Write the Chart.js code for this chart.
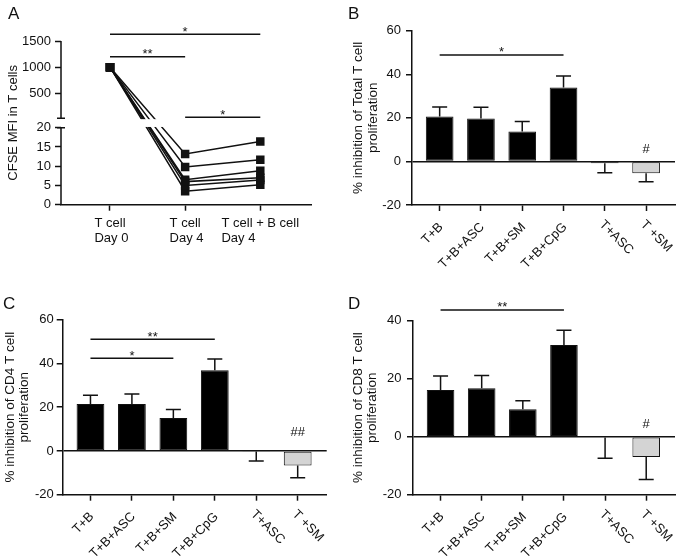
<!DOCTYPE html>
<html>
<head>
<meta charset="utf-8">
<script src="https://cdn.jsdelivr.net/npm/chart.js@4.4.1/dist/chart.umd.min.js"></script>
<style>
body { margin: 0; background: #fff; }
#fig { position: relative; width: 684px; height: 556px; font-family: 'Liberation Sans', Arial, sans-serif; }
#fig canvas { position: absolute; }
.tag { position: absolute; font-size: 17px; line-height: 17px; color: #111; }
</style>
</head>
<body>
<div id="fig">
  <canvas id="panelA" width="342" height="278" style="left:0;top:0"></canvas>
  <canvas id="panelB" width="342" height="278" style="left:342px;top:0"></canvas>
  <canvas id="panelC" width="342" height="278" style="left:0;top:278px"></canvas>
  <canvas id="panelD" width="342" height="278" style="left:342px;top:278px"></canvas>
  <div class="tag" style="left:8px;top:5px">A</div>
  <div class="tag" style="left:348px;top:5px">B</div>
  <div class="tag" style="left:3px;top:295px">C</div>
  <div class="tag" style="left:348px;top:295px">D</div>
</div>
<script>
// Panel A: CFSE MFI i T-celler, en linje per donator
const groupsA = [['T cell', 'Day 0'], ['T cell', 'Day 4'], ['T cell + B cell', 'Day 4']];
const day0 = [1000, 1000, 1000, 1000, 1000, 1000];
const day4 = [13.2, 9.8, 6.5, 6.0, 5.0, 3.5];
const day4B = [16.4, 11.7, 8.8, 7.0, 6.4, 5.2];
const ticksA = [0, 5, 10, 15, 20, 500, 1000, 1500];
const sigA = [[0, 2, 1628, '*'], [0, 1, 1199, '**'], [1, 2, 39, '*']];

// Panel B-D: % hämning, medel och SEM
const groups = ['T+B', 'T+B+ASC', 'T+B+SM', 'T+B+CpG', 'T+ASC', 'T +SM'];
const totalMean = [20.6, 19.7, 13.7, 33.9, -0.8, -5.4];
const totalSem = [4.4, 5.2, 4.6, 5.3, 4.4, 3.9];
const cd4Mean = [21.5, 21.5, 15.1, 36.9, -0.3, -6.6];
const cd4Sem = [4.0, 4.5, 3.8, 5.1, 4.3, 5.6];
const cd8Mean = [16.1, 16.7, 9.5, 31.6, -0.3, -7.0];
const cd8Sem = [4.8, 4.4, 2.9, 5.1, 7.1, 7.8];
const sigTotal = [[0, 3, 48.9, '*']];
const sigCD4 = [[0, 3, 51.1, '**'], [0, 2, 42.4, '*']];
const sigCD8 = [[0, 3, 43.7, '**']];
const hashTotal = [[5, 5.4, '#']];
const hashCD4 = [[5, 8.5, '##']];
const hashCD8 = [[5, 4.1, '#']];

const ink = '#111';
const family = "'Liberation Sans', Arial, sans-serif";
Chart.defaults.font.family = family;
Chart.defaults.font.size = 13;
Chart.defaults.color = ink;
Chart.defaults.animation = false;
Chart.defaults.plugins.legend.display = false;
Chart.defaults.plugins.tooltip.enabled = false;

// Bruten y-axel: 0-20 nedtill, 20-1500 upptill
const breakA = { low: 20, high: 20, lowShare: 0.47, gapShare: 0.0574 };

class BrokenScale extends Chart.LinearScale {
    parts() {
        const h = this.bottom - this.top;
        const lowH = h * breakA.lowShare;
        const gap = h * breakA.gapShare;
        return { h, lowH, gap, highH: h - lowH - gap };
    }
    getPixelForValue(v) {
        const p = this.parts();
        if (v <= breakA.low) {
            return this.bottom - (v - this.min) / (breakA.low - this.min) * p.lowH;
        }
        return this.bottom - p.lowH - p.gap - (v - breakA.high) / (this.max - breakA.high) * p.highH;
    }
    getValueForPixel(px) {
        const p = this.parts();
        const d = this.bottom - px;
        if (d <= p.lowH) return this.min + d / p.lowH * (breakA.low - this.min);
        return breakA.high + (d - p.lowH - p.gap) / p.highH * (this.max - breakA.high);
    }
}
BrokenScale.id = 'broken';
Chart.register(BrokenScale);

function axisX(n, height) {
    return {
        type: 'linear',
        offset: false,
        min: -0.67,
        max: n - 1 + 0.7,
        afterBuildTicks: s => { s.ticks = Array.from({ length: n }, (_, i) => ({ value: i })); },
        afterFit: s => { s.height = height; },
        ticks: { display: false },
        grid: { offset: false, drawOnChartArea: false, tickLength: 6, tickColor: ink, tickWidth: 1.5 },
        border: { color: ink, width: 1.5 }
    };
}

function axisY(min, max, width, title, titlePad, labelPad) {
    return {
        min: min,
        max: max,
        ticks: { stepSize: 20, padding: labelPad },
        afterFit: s => { s.width = width; },
        grid: {
            color: c => (c.tick && c.tick.value === 0) ? ink : 'rgba(0,0,0,0)',
            lineWidth: 1.5, tickLength: 6, tickColor: ink, tickWidth: 1.5
        },
        border: { color: ink, width: 1.5 },
        title: {
            display: true, text: title, color: ink,
            font: { size: 13.5, lineHeight: 1.08 },
            padding: { top: titlePad, bottom: 0 }
        }
    };
}

// Signifikansstreck med stjärnor
function brackets(list) {
    return {
        id: 'brackets',
        afterDraw(chart) {
            const { ctx, scales: { x, y } } = chart;
            ctx.save();
            ctx.strokeStyle = ink;
            ctx.fillStyle = ink;
            ctx.lineWidth = 1.5;
            ctx.font = '13px ' + family;
            ctx.textAlign = 'center';
            ctx.textBaseline = 'alphabetic';
            list.forEach(([a, b, v, txt]) => {
                const x1 = x.getPixelForValue(a);
                const x2 = x.getPixelForValue(b);
                const py = y.getPixelForValue(v);
                ctx.beginPath();
                ctx.moveTo(x1, py);
                ctx.lineTo(x2, py);
                ctx.stroke();
                ctx.fillText(txt, (x1 + x2) / 2, py + 1.5);
            });
            ctx.restore();
        }
    };
}

// #-markeringar ovanför staplar
function hashes(list) {
    return {
        id: 'hashes',
        afterDraw(chart) {
            const { ctx, scales: { x, y } } = chart;
            ctx.save();
            ctx.fillStyle = ink;
            ctx.font = '13px ' + family;
            ctx.textAlign = 'center';
            ctx.textBaseline = 'middle';
            list.forEach(([i, v, txt]) => ctx.fillText(txt, x.getPixelForValue(i), y.getPixelForValue(v)));
            ctx.restore();
        }
    };
}

// Felstaplar bort från noll
function errorBars(means, sems) {
    return {
        id: 'errorBars',
        afterDatasetsDraw(chart) {
            const { ctx, scales: { y } } = chart;
            const bars = chart.getDatasetMeta(0).data;
            ctx.save();
            ctx.strokeStyle = ink;
            ctx.lineWidth = 1.5;
            bars.forEach((bar, i) => {
                const end = y.getPixelForValue(means[i] + Math.sign(means[i]) * sems[i]);
                ctx.beginPath();
                ctx.moveTo(bar.x, bar.y);
                ctx.lineTo(bar.x, end);
                ctx.moveTo(bar.x - 7.5, end);
                ctx.lineTo(bar.x + 7.5, end);
                ctx.stroke();
            });
            ctx.restore();
        }
    };
}

// Snedställda kategorietiketter, de två sista lutar åt andra hållet
function tiltLabels(names) {
    return {
        id: 'tiltLabels',
        afterDraw(chart) {
            const { ctx, chartArea, scales: { x } } = chart;
            ctx.save();
            ctx.fillStyle = ink;
            ctx.font = '13px ' + family;
            ctx.textBaseline = 'middle';
            names.forEach((name, i) => {
                const px = x.getPixelForValue(i);
                ctx.save();
                if (i < 4) {
                    ctx.translate(px + 1.5, chartArea.bottom + 20);
                    ctx.rotate(-Math.PI / 4);
                    ctx.textAlign = 'right';
                } else {
                    ctx.translate(px - 3.5, chartArea.bottom + 17.5);
                    ctx.rotate(Math.PI / 4);
                    ctx.textAlign = 'left';
                }
                ctx.fillText(name, 0, 0);
                ctx.restore();
            });
            ctx.restore();
        }
    };
}

function barPanel(id, means, sems, cfg) {
    new Chart(document.getElementById(id), {
        type: 'bar',
        data: {
            datasets: [{
                data: means.map((v, i) => ({ x: i, y: v })),
                backgroundColor: means.map((v, i) => i < 4 ? '#000' : '#d4d4d4'),
                borderColor: ink,
                borderWidth: 1,
                borderSkipped: false,
                barPercentage: 0.67,
                categoryPercentage: 1
            }]
        },
        options: {
            responsive: false,
            layout: { padding: { top: cfg.top, right: cfg.right, left: 0, bottom: 0 } },
            scales: {
                x: axisX(groups.length, cfg.xh),
                y: axisY(cfg.min, cfg.max, cfg.yw, cfg.title, cfg.titlePad, cfg.labelPad)
            }
        },
        plugins: [tiltLabels(groups), errorBars(means, sems), brackets(cfg.sig), hashes(cfg.hash)]
    });
}

// Panel A
const panelAExtras = {
    id: 'panelAExtras',
    afterDatasetsDraw(chart) {
        // vit remsa i axelbrottet
        const { ctx, chartArea, scales: { y } } = chart;
        const p = y.parts();
        const lowTop = y.bottom - p.lowH;
        const highBottom = lowTop - p.gap;
        ctx.save();
        ctx.fillStyle = '#fff';
        ctx.fillRect(chartArea.left + 1, highBottom + 0.8, chartArea.right - chartArea.left, p.gap - 1.6);
        ctx.restore();
    },
    afterDraw(chart) {
        const { ctx, chartArea, scales: { x, y } } = chart;
        const p = y.parts();
        const lowTop = y.bottom - p.lowH;
        const highBottom = lowTop - p.gap;
        const ax = chartArea.left;
        ctx.save();
        ctx.strokeStyle = ink;
        ctx.lineWidth = 1.5;
        ctx.beginPath();
        ctx.moveTo(ax, y.bottom);
        ctx.lineTo(ax, lowTop);
        ctx.moveTo(ax, highBottom);
        ctx.lineTo(ax, y.top);
        ctx.moveTo(ax - 4, lowTop);
        ctx.lineTo(ax + 4, lowTop);
        ctx.moveTo(ax - 4, highBottom);
        ctx.lineTo(ax + 4, highBottom);
        ctx.stroke();

        // kategorietiketter i två rader
        ctx.fillStyle = ink;
        ctx.font = '13px ' + family;
        ctx.textAlign = 'left';
        ctx.textBaseline = 'alphabetic';
        groupsA.forEach((lines, i) => {
            const px = x.getPixelForValue(i);
            const w0 = ctx.measureText(lines[0]).width;
            lines.forEach((t, k) => ctx.fillText(t, px - w0 / 2, chartArea.bottom + 22 + k * 15.5));
        });
        ctx.restore();
    }
};

new Chart(document.getElementById('panelA'), {
    type: 'line',
    data: {
        datasets: day0.map((v, i) => ({
            data: [{ x: 0, y: v }, { x: 1, y: day4[i] }, { x: 2, y: day4B[i] }],
            borderColor: ink,
            borderWidth: 1.5,
            pointStyle: 'rect',
            pointRadius: 6,
            pointBackgroundColor: ink,
            pointBorderColor: ink,
            pointBorderWidth: 0
        }))
    },
    options: {
        responsive: false,
        layout: { padding: { top: 41, right: 30.3, left: 0, bottom: 0 } },
        scales: {
            x: Object.assign(axisX(groupsA.length, 73.3), { min: -0.652, max: 2.684 }),
            y: {
                type: 'broken',
                min: 0,
                max: 1500,
                afterBuildTicks: s => { s.ticks = ticksA.map(v => ({ value: v })); },
                afterFit: s => { s.width = 61; },
                ticks: { autoSkip: false, padding: 4, callback: v => String(v) },
                grid: { drawOnChartArea: false, tickLength: 6, tickColor: ink, tickWidth: 1.5 },
                border: { display: false },
                title: {
                    display: true, text: 'CFSE MFI in T cells', color: ink,
                    font: { size: 13 }, padding: { top: 6, bottom: 0 }
                }
            }
        }
    },
    plugins: [panelAExtras, brackets(sigA)]
});

barPanel('panelB', totalMean, totalSem, {
    top: 30.7, right: 9, xh: 73, yw: 70, min: -20, max: 60, titlePad: 9.4, labelPad: 5,
    title: ['% inhibition of Total T cell', 'proliferation'], sig: sigTotal, hash: hashTotal
});

barPanel('panelC', cd4Mean, cd4Sem, {
    top: 41.7, right: 15.3, xh: 61.3, yw: 62.7, min: -20, max: 60, titlePad: 2.7, labelPad: 3,
    title: ['% inhibition of CD4 T cell', 'proliferation'], sig: sigCD4, hash: hashCD4
});

barPanel('panelD', cd8Mean, cd8Sem, {
    top: 42.7, right: 9, xh: 61.3, yw: 71, min: -20, max: 40, titlePad: 8.7, labelPad: 5.5,
    title: ['% inhibition of CD8 T cell', 'proliferation'], sig: sigCD8, hash: hashCD8
});
</script>
</body>
</html>
